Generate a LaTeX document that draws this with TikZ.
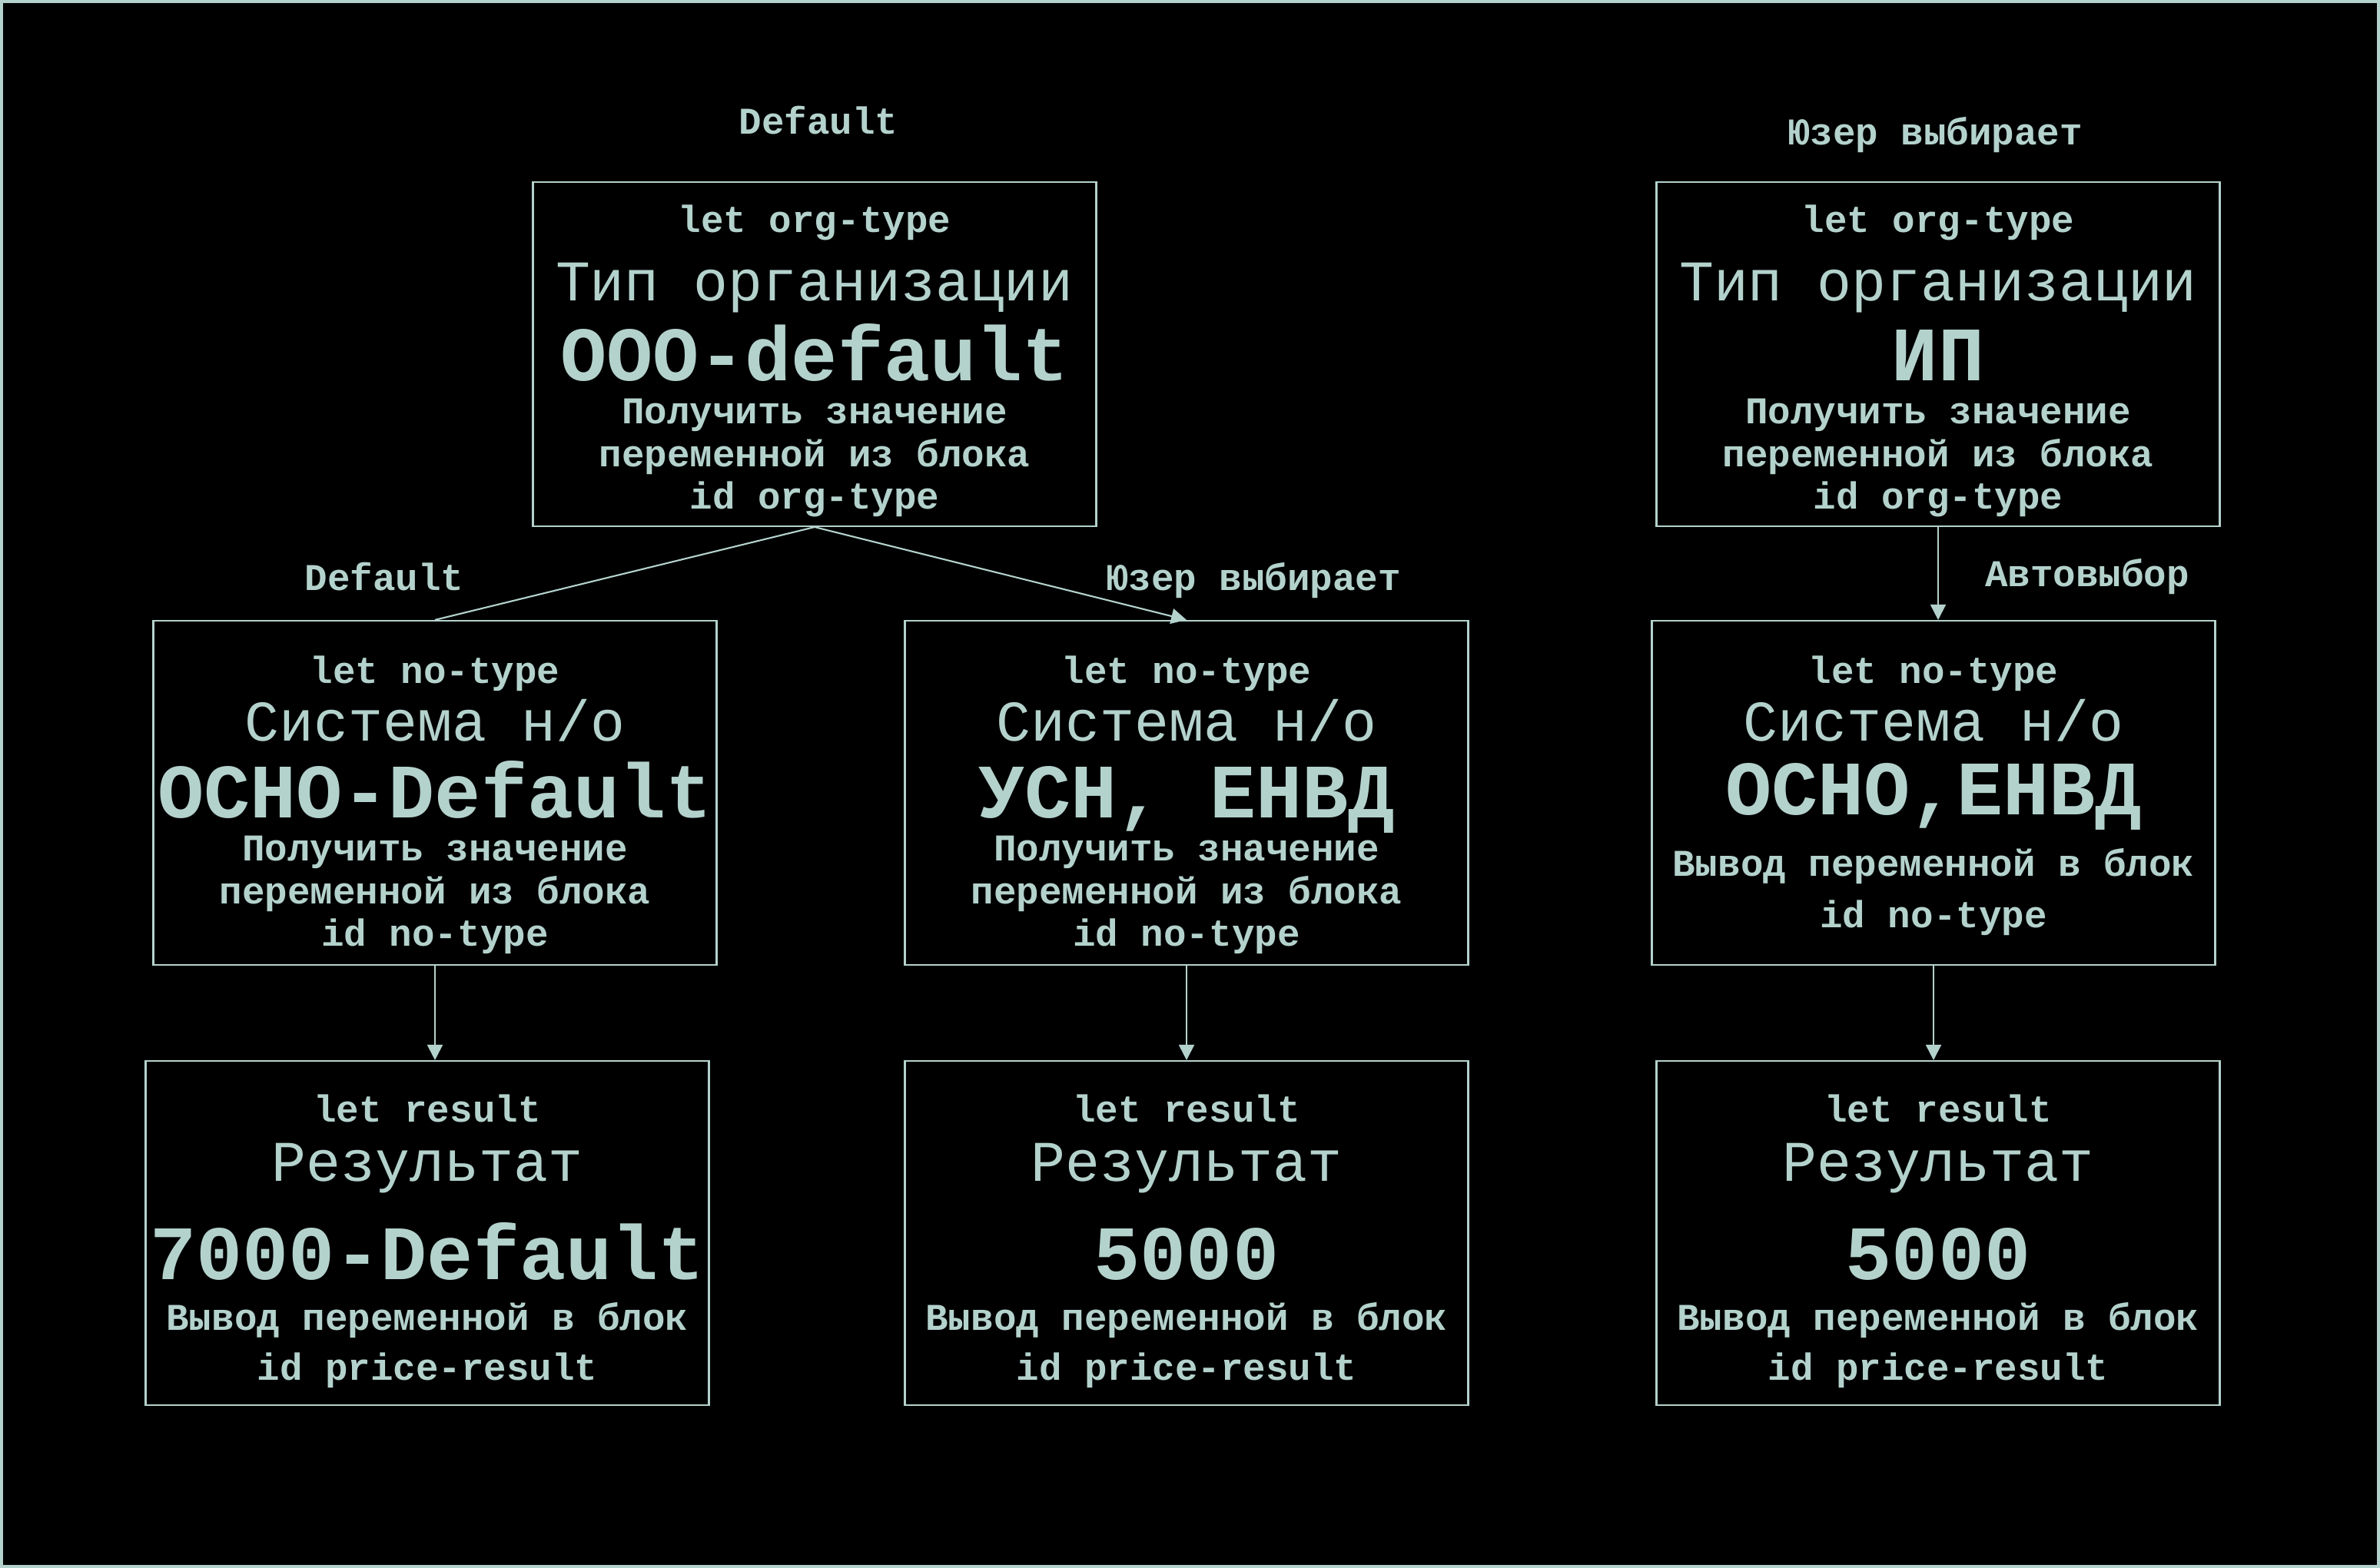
\documentclass[tikz,border=0pt]{standalone}
\usepackage{fontspec}
\setmainfont{Liberation Mono}
\usetikzlibrary{positioning,calc,arrows.meta}
\definecolor{chalk}{HTML}{B4D2CC}

\begin{document}
\begin{tikzpicture}[
    block/.style={rectangle, draw=chalk, line width=0.6pt, minimum width=7.33cm, minimum height=4.48cm, inner sep=0pt},
    small/.style={text=chalk, font=\fontsize{14}{16}\selectfont\bfseries, text height=12.3pt, text depth=2.5pt, inner sep=0pt},
    title/.style={text=chalk, font=\fontsize{21.3}{24}\selectfont, text height=18pt, text depth=3.6pt, inner sep=0pt},
    value/.style={text=chalk, font=\fontsize{28.5}{32}\selectfont\bfseries, text height=24pt, text depth=4.5pt, inner sep=0pt},
    link/.style={draw=chalk, line width=0.6pt},
    arrow/.style={link, -{Triangle[width=0.2cm, length=0.2cm]}}
]
\fill[black] (0,0) rectangle (30.97,20.41);
\useasboundingbox (0,0) rectangle (30.97,20.41);
\draw[chalk, line width=0.9pt] (0.02,0.02) rectangle (30.95,20.39);

% boxes
\node[block] (orgdef) at (10.60,15.80) {};
\node[block] (orguser) at (25.22,15.80) {};
\node[block] (nodef) at (5.66,10.09) {};
\node[block] (nouser) at (15.44,10.09) {};
\node[block] (noauto) at (25.16,10.09) {};
\node[block] (resdef) at (5.56,4.36) {};
\node[block] (resuser) at (15.44,4.36) {};
\node[block] (resauto) at (25.22,4.36) {};

% org-type, default
\node[small] (orgdefA) at ($(orgdef.north)+(0,-0.49)$) {let org-type};
\node[title] (orgdefB) at ($(orgdef.north)+(0,-1.30)$) {Тип организации};
\node[value] (orgdefC) at ($(orgdef.north)+(0,-2.25)$) {ООО-default};
\node[small] (orgdefD) at ($(orgdef.north)+(0,-2.98)$) {Получить значение};
\node[small] (orgdefE) at ($(orgdef.north)+(0,-3.54)$) {переменной из блока};
\node[small] (orgdefF) at ($(orgdef.north)+(0,-4.09)$) {id org-type};

% org-type, user
\node[small] (orguserA) at ($(orguser.north)+(0,-0.49)$) {let org-type};
\node[title] (orguserB) at ($(orguser.north)+(0,-1.30)$) {Тип организации};
\node[value] (orguserC) at ($(orguser.north)+(0,-2.25)$) {ИП};
\node[small] (orguserD) at ($(orguser.north)+(0,-2.98)$) {Получить значение};
\node[small] (orguserE) at ($(orguser.north)+(0,-3.54)$) {переменной из блока};
\node[small] (orguserF) at ($(orguser.north)+(0,-4.09)$) {id org-type};

% no-type
\node[small] (nodefA) at ($(nodef.north)+(0,-0.65)$) {let no-type};
\node[title] (nodefB) at ($(nodef.north)+(0,-1.32)$) {Система н/о};
\node[value] (nodefC) at ($(nodef.north)+(0,-2.23)$) {ОСНО-Default};
\node[small] (nodefD) at ($(nodef.north)+(0,-2.96)$) {Получить значение};
\node[small] (nodefE) at ($(nodef.north)+(0,-3.52)$) {переменной из блока};
\node[small] (nodefF) at ($(nodef.north)+(0,-4.07)$) {id no-type};

\node[small] (nouserA) at ($(nouser.north)+(0,-0.65)$) {let no-type};
\node[title] (nouserB) at ($(nouser.north)+(0,-1.32)$) {Система н/о};
\node[value] (nouserC) at ($(nouser.north)+(0,-2.23)$) {УСН, ЕНВД};
\node[small] (nouserD) at ($(nouser.north)+(0,-2.96)$) {Получить значение};
\node[small] (nouserE) at ($(nouser.north)+(0,-3.52)$) {переменной из блока};
\node[small] (nouserF) at ($(nouser.north)+(0,-4.07)$) {id no-type};

\node[small] (noautoA) at ($(noauto.north)+(0,-0.65)$) {let no-type};
\node[title] (noautoB) at ($(noauto.north)+(0,-1.32)$) {Система н/о};
\node[value] (noautoC) at ($(noauto.north)+(0,-2.19)$) {ОСНО,ЕНВД};
\node[small] (noautoD) at ($(noauto.north)+(0,-3.16)$) {Вывод переменной в блок};
\node[small] (noautoE) at ($(noauto.north)+(0,-3.83)$) {id no-type};

% result
\node[small] (resdefA) at ($(resdef.north)+(0,-0.63)$) {let result};
\node[title] (resdefB) at ($(resdef.north)+(0,-1.32)$) {Результат};
\node[value] (resdefC) at ($(resdef.north)+(0,-2.51)$) {7000-Default};
\node[small] (resdefD) at ($(resdef.north)+(0,-3.34)$) {Вывод переменной в блок};
\node[small] (resdefE) at ($(resdef.north)+(0,-3.99)$) {id price-result};

\node[small] (resuserA) at ($(resuser.north)+(0,-0.63)$) {let result};
\node[title] (resuserB) at ($(resuser.north)+(0,-1.32)$) {Результат};
\node[value] (resuserC) at ($(resuser.north)+(0,-2.51)$) {5000};
\node[small] (resuserD) at ($(resuser.north)+(0,-3.34)$) {Вывод переменной в блок};
\node[small] (resuserE) at ($(resuser.north)+(0,-3.99)$) {id price-result};

\node[small] (resautoA) at ($(resauto.north)+(0,-0.63)$) {let result};
\node[title] (resautoB) at ($(resauto.north)+(0,-1.32)$) {Результат};
\node[value] (resautoC) at ($(resauto.north)+(0,-2.51)$) {5000};
\node[small] (resautoD) at ($(resauto.north)+(0,-3.34)$) {Вывод переменной в блок};
\node[small] (resautoE) at ($(resauto.north)+(0,-3.99)$) {id price-result};

% labels
\node[small] (lbldef) at ($(orgdef.north)+(0.05,0.79)$) {Default};
\node[small] (lbluser) at ($(orguser.north)+(-0.04,0.65)$) {Юзер выбирает};
\node[small] (lbldefno) at ($(nodef.north)+(-0.66,0.555)$) {Default};
\node[small] (lbluserno) at ($(nouser.north)+(0.87,0.555)$) {Юзер выбирает};
\node[small] (lblauto) at ($(noauto.north)+(2.0,0.61)$) {Автовыбор};

% connectors
\draw[link] (orgdef.south) -- (nodef.north);
\draw[arrow] (orgdef.south) -- (nouser.north);
\draw[arrow] (orguser.south) -- (orguser.south |- noauto.north);
\draw[arrow] (nodef.south) -- (nodef.south |- resdef.north);
\draw[arrow] (nouser.south) -- (resuser.north);
\draw[arrow] (noauto.south) -- (noauto.south |- resauto.north);
\end{tikzpicture}
\end{document}
